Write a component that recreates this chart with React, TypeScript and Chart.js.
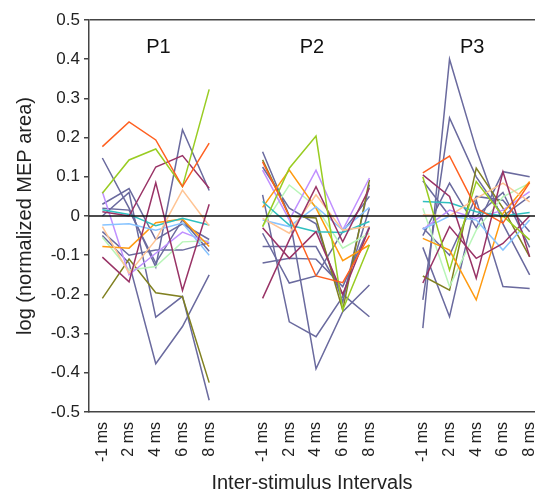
import { useEffect, useRef } from 'react';
import { Chart, registerables } from 'chart.js';

Chart.register(...registerables);

const FONT = '"Liberation Sans", Arial, sans-serif';

const intervalLabels = ['-1 ms', '2 ms', '4 ms', '6 ms', '8 ms'];
const groupNames = ['P1', 'P2', 'P3'];
const groupLabelX = [2.1, 7.85, 13.85];
const groupLabelY = 0.43;
const yTicks = [0.5, 0.4, 0.3, 0.2, 0.1, 0, -0.1, -0.2, -0.3, -0.4, -0.5];

// subject colours (same subject = same colour in every group)
const subjectColors = [
  '#ff6020', // orange-red
  '#99cc22', // yellow-green
  '#993366', // maroon
  '#993366', // maroon
  '#ffc494', // peach
  '#30c0c0', // cyan
  '#88c4ff', // light blue
  '#ff9a10', // orange
  '#c090ff', // lavender
  '#b8f5b8', // light green
  '#808020', // olive
  '#6a6a9e', // slate
  '#6a6a9e',
  '#6a6a9e',
  '#6a6a9e',
  '#6a6a9e',
  '#6a6a9e',
];

const p1Values = [
  [0.177, 0.24, 0.194, 0.075, 0.186],
  [0.058, 0.143, 0.171, 0.075, 0.323],
  [0.011, 0.0, 0.125, 0.154, 0.071],
  [-0.105, -0.168, 0.085, -0.19, 0.03],
  [-0.027, -0.146, -0.061, 0.066, -0.025],
  [0.016, 0.004, -0.025, -0.006, -0.023],
  [-0.023, -0.02, -0.036, -0.018, -0.1],
  [-0.078, -0.082, -0.017, -0.008, -0.078],
  [0.062, -0.15, -0.095, -0.041, -0.068],
  [-0.054, -0.138, -0.129, -0.066, -0.063],
  [-0.21, -0.11, -0.196, -0.206, -0.425],
  [0.148, 0.02, -0.13, 0.22, 0.065],
  [0.03, 0.07, -0.06, -0.02, -0.06],
  [-0.05, -0.12, -0.377, -0.282, -0.15],
  [0.0, 0.06, -0.258, -0.205, -0.47],
  [-0.04, -0.1, -0.087, -0.087, -0.068],
  [0.02, 0.015, -0.12, -0.01, -0.09],
];

const p2Values = [
  [0.138, 0.0, -0.153, -0.17, -0.05],
  [-0.027, 0.122, 0.204, -0.24, -0.074],
  [-0.21, -0.061, 0.075, -0.066, 0.071],
  [-0.03, -0.108, -0.04, -0.2, -0.03],
  [-0.006, -0.044, 0.054, -0.036, -0.027],
  [0.037, -0.023, -0.04, -0.042, -0.014],
  [-0.01, -0.027, 0.024, -0.036, 0.022],
  [0.022, 0.117, 0.02, -0.114, -0.074],
  [0.117, -0.01, 0.117, -0.036, 0.097],
  [-0.027, 0.079, 0.024, -0.082, -0.044],
  [0.143, 0.0, -0.005, -0.24, 0.092],
  [0.164, 0.0, -0.39, -0.244, -0.176],
  [0.054, -0.27, -0.308, -0.206, 0.02],
  [-0.078, -0.078, -0.078, -0.2, -0.257],
  [-0.12, -0.108, -0.11, -0.18, -0.027],
  [-0.044, -0.171, -0.153, -0.04, 0.05],
  [0.125, 0.02, -0.02, -0.22, 0.08],
];

const p3Values = [
  [0.11, 0.153, 0.02, -0.018, 0.085],
  [0.1, -0.138, 0.088, 0.0, -0.061],
  [0.105, 0.05, -0.159, 0.113, -0.104],
  [-0.171, -0.027, -0.108, -0.07, 0.0],
  [0.003, 0.0, 0.045, 0.084, 0.036],
  [0.037, 0.034, 0.011, 0.0, 0.009],
  [-0.034, 0.0, -0.01, -0.087, -0.01],
  [-0.057, -0.087, -0.214, 0.007, 0.088],
  [-0.034, 0.015, -0.006, 0.015, 0.062],
  [0.02, -0.18, -0.036, 0.049, 0.084],
  [-0.153, -0.189, 0.122, 0.02, -0.104],
  [-0.286, 0.4, 0.17, -0.02, -0.15],
  [-0.214, 0.25, 0.1, 0.0, 0.05],
  [-0.05, 0.084, -0.03, 0.113, 0.1],
  [-0.08, -0.257, 0.04, -0.18, -0.185],
  [-0.03, -0.1, 0.05, 0.04, -0.04],
  [0.09, 0.0, 0.0, 0.06, -0.08],
];

export default function App() {
  const ref = useRef<HTMLCanvasElement>(null);

  useEffect(() => {
    if (!ref.current) return;
    const groups = [p1Values, p2Values, p3Values];
    const groupStride = intervalLabels.length + 1;
    const tickPositions: number[] = [];
    const tickText: Record<number, string> = {};
    groups.forEach((_, gi) =>
      intervalLabels.forEach((l, li) => {
        const x = gi * groupStride + li;
        tickPositions.push(x);
        tickText[x] = l;
      })
    );
    const xMin = -0.5;
    const xMax = tickPositions[tickPositions.length - 1] + 0.2;

    const datasets = subjectColors.map((color, si) => {
      const data: { x: number; y: number | null }[] = [];
      groups.forEach((g, gi) => {
        g[si].forEach((v, li) => data.push({ x: gi * groupStride + li, y: v }));
        if (gi < groups.length - 1) data.push({ x: gi * groupStride + intervalLabels.length, y: null });
      });
      return {
        data,
        borderColor: color,
        backgroundColor: color,
        borderWidth: 1.5,
        pointRadius: 0,
        fill: false,
        tension: 0,
        spanGaps: false,
      };
    });

    const overlay = {
      id: 'overlay',
      afterDatasetsDraw(chart: any) {
        const { ctx, chartArea, scales } = chart;
        const y0 = scales.y.getPixelForValue(0);
        ctx.save();
        ctx.strokeStyle = '#111';
        ctx.lineWidth = 1.5;
        ctx.beginPath();
        ctx.moveTo(chartArea.left, y0);
        ctx.lineTo(chartArea.right, y0);
        ctx.stroke();
        ctx.fillStyle = '#111';
        ctx.font = `20px ${FONT}`;
        ctx.textAlign = 'center';
        ctx.textBaseline = 'middle';
        groupNames.forEach((n, i) =>
          ctx.fillText(n, scales.x.getPixelForValue(groupLabelX[i]), scales.y.getPixelForValue(groupLabelY))
        );
        ctx.restore();
      },
    };

    const chart = new Chart(ref.current, {
      type: 'line',
      data: { datasets: datasets as any },
      plugins: [overlay],
      options: {
        responsive: true,
        maintainAspectRatio: false,
        animation: false,
        layout: { padding: { top: 20, left: 0, right: 0, bottom: 0 } },
        plugins: { legend: { display: false }, tooltip: { enabled: false } },
        scales: {
          x: {
            type: 'linear',
            min: xMin,
            max: xMax,
            afterBuildTicks: (axis: any) => {
              axis.ticks = tickPositions.map((v) => ({ value: v }));
            },
            afterFit: (axis: any) => {
              axis.height = 81;
              axis.paddingLeft = 0;
              axis.paddingRight = 0;
            },
            grid: { display: false, drawTicks: false },
            border: { display: true, color: '#444', width: 1.5 },
            ticks: {
              autoSkip: false,
              minRotation: 90,
              maxRotation: 90,
              padding: 10,
              color: '#222',
              font: { family: FONT, size: 16 },
              callback: (v: any) => tickText[v as number] ?? '',
            },
            title: {
              display: true,
              text: 'Inter-stimulus Intervals',
              color: '#222',
              font: { family: FONT, size: 20, lineHeight: 1 },
              padding: { top: 0, bottom: 0 },
            },
          },
          y: {
            min: -0.5,
            max: 0.5,
            afterBuildTicks: (axis: any) => {
              axis.ticks = yTicks.map((v) => ({ value: v }));
            },
            afterFit: (axis: any) => {
              axis.width = 89;
              axis.paddingTop = 0;
              axis.paddingBottom = 0;
            },
            grid: {
              color: (ctx: any) => (ctx.tick && ctx.tick.value === 0.5 ? '#444' : 'rgba(0,0,0,0)'),
              lineWidth: 1.5,
              tickColor: '#444',
              tickLength: 5,
              drawTicks: true,
            },
            border: { display: true, color: '#444', width: 1.5 },
            ticks: {
              padding: 4,
              color: '#222',
              font: { family: FONT, size: 17 },
              callback: (v: any) => (Number(v) === 0 ? '0' : Number(v).toFixed(1)),
            },
            title: {
              display: true,
              text: 'log (normalized MEP area)',
              color: '#222',
              font: { family: FONT, size: 20, lineHeight: 1.2 },
              padding: { top: 13, bottom: 0 },
            },
          },
        },
      },
    });

    return () => chart.destroy();
  }, []);

  return (
    <div style={{ position: 'fixed', left: 0, top: 0, width: 535, height: 493 }}>
      <canvas ref={ref} />
    </div>
  );
}
